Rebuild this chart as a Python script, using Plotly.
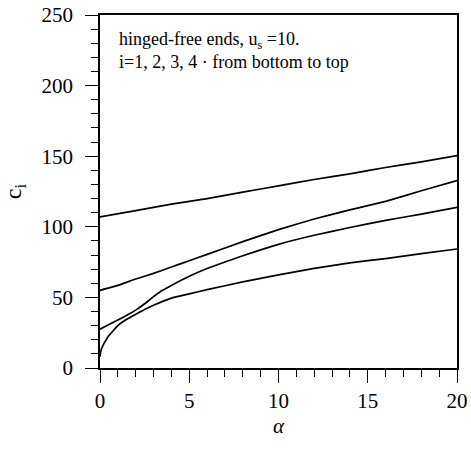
import plotly.graph_objects as go

alpha1 = [0, 0.05, 0.15, 0.3, 0.5, 1, 1.5, 2, 2.5, 3, 4, 5, 6, 8, 10, 12, 14, 16, 18, 20]
c1 = [8, 12, 15.5, 19, 23, 30, 34.5, 38, 41.5, 44.5, 49.5, 52.5, 55.5, 61, 66, 70.5, 74.5, 77.5, 81, 84.3]

alpha2 = [0, 0.5, 1, 1.5, 2, 2.5, 3, 3.5, 4, 5, 6, 8, 10, 12, 14, 16, 18, 20]
c2 = [27.5, 30.8, 34, 37.3, 41, 45.5, 50.5, 55, 58.5, 65, 70.5, 79.5, 87.6, 94, 99.5, 104.5, 109, 113.8]

alpha3 = [0, 1, 2, 3, 4, 5, 6, 8, 10, 12, 14, 16, 18, 20]
c3 = [55, 58.5, 63, 67, 71.5, 76, 80.5, 89.5, 98, 105.5, 112, 118, 125.5, 132.7]

alpha4 = [0, 2, 4, 6, 8, 10, 12, 14, 16, 18, 20]
c4 = [107, 111.5, 116, 120, 124.5, 129, 133.5, 137.5, 142, 146, 150.4]

x_ticks = [0, 5, 10, 15, 20]
y_ticks = [0, 50, 100, 150, 200, 250]

fig = go.Figure()
for xs, ys in [(alpha1, c1), (alpha2, c2), (alpha3, c3), (alpha4, c4)]:
    fig.add_trace(go.Scatter(x=xs, y=ys, mode="lines",
                             line=dict(color="black", width=1.7, shape="spline", smoothing=0.3),
                             showlegend=False))

font = "Liberation Serif"
fig.update_layout(
    width=471, height=450,
    margin=dict(l=100, r=14, t=15, b=82),
    plot_bgcolor="white", paper_bgcolor="white",
    font=dict(family=font, color="black", size=18),
    showlegend=False,
)
fig.update_xaxes(
    range=[0, 20], tickvals=x_ticks, ticks="outside", ticklen=13, tickwidth=1.3,
    tickcolor="black", showline=True, linecolor="black", linewidth=1.5, mirror=True,
    showgrid=False, zeroline=False, ticklabeloverflow="allow", automargin=False,
    minor=dict(dtick=1, ticks="outside", ticklen=7, tickcolor="black", tickwidth=1),
    tickfont=dict(family=font, size=21),
    title=dict(text="<i>α</i>", font=dict(family=font, size=21), standoff=6),
)
fig.update_yaxes(
    range=[0, 250], tickvals=y_ticks, ticks="outside", ticklen=13, tickwidth=1.3,
    tickcolor="black", showline=True, linecolor="black", linewidth=1.5, mirror=True,
    showgrid=False, zeroline=False, ticklabeloverflow="allow", automargin=False,
    minor=dict(dtick=10, ticks="outside", ticklen=7, tickcolor="black", tickwidth=1),
    tickfont=dict(family=font, size=21), ticklabelstandoff=8,
    title=dict(text="c<sub>i</sub>", font=dict(family=font, size=24), standoff=20),
)
fig.add_annotation(
    x=0.048, y=0.965, xref="paper", yref="paper", xanchor="left", yanchor="top",
    align="left", showarrow=False,
    text="hinged-free ends, u<sub>s</sub> =10.<br>i=1, 2, 3, 4 · from bottom to top",
    font=dict(family=font, size=18, color="black"),
)
fig.write_html("out.html", config={"displayModeBar": False},
               post_script="document.body.style.margin='0';document.body.style.overflow='hidden';")
